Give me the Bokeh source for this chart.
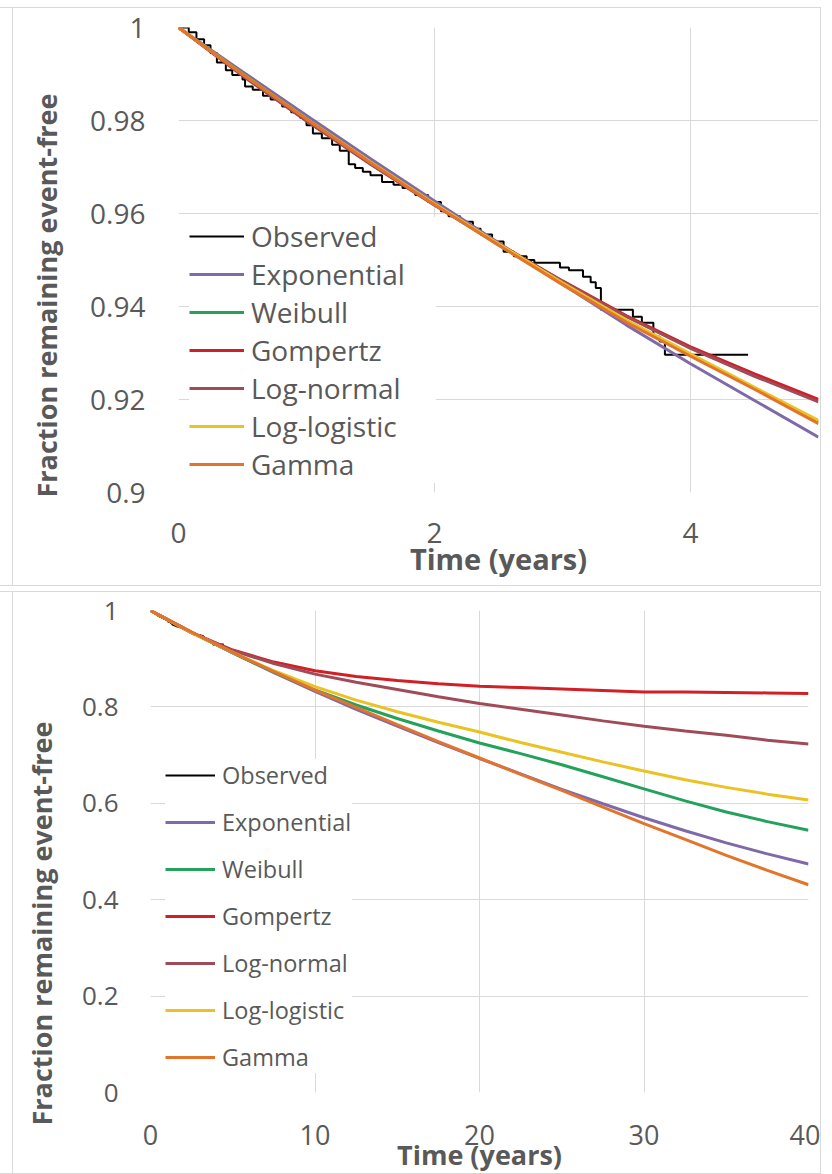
from bokeh.plotting import figure
from bokeh.layouts import column
from bokeh.models import FixedTicker, Legend, LegendItem, Title
from bokeh.embed import file_html
from bokeh.resources import INLINE

# ---------------- data ----------------
series_names = ["Observed", "Exponential", "Weibull", "Gompertz", "Log-normal", "Log-logistic", "Gamma"]
series_colors = ["#000000", "#7f6aa9", "#24a25c", "#d11f26", "#a04c58", "#eac223", "#e3742b"]

# Observed Kaplan-Meier steps (years, fraction event-free)
obs_t = [0, 0.08, 0.14, 0.2, 0.25, 0.3, 0.37, 0.42, 0.5, 0.52, 0.58, 0.66, 0.72, 0.81, 0.88,
         0.95, 1.0, 1.05, 1.12, 1.2, 1.26, 1.33, 1.38, 1.44, 1.5, 1.59, 1.68, 1.75, 1.85,
         1.95, 2.05, 2.11, 2.2, 2.3, 2.36, 2.45, 2.54, 2.62, 2.72, 2.78, 2.98, 3.05, 3.16,
         3.22, 3.26, 3.3, 3.55, 3.62, 3.71, 3.76, 3.8, 4.45]
obs_s = [1.0, 0.999, 0.9975, 0.9962, 0.9945, 0.9925, 0.9908, 0.9898, 0.9888, 0.9873, 0.9866,
         0.9853, 0.9845, 0.983, 0.9818, 0.9806, 0.979, 0.9772, 0.9762, 0.9748, 0.9735, 0.9706,
         0.9698, 0.969, 0.9682, 0.9668, 0.9662, 0.9655, 0.964, 0.9625, 0.9605, 0.9594, 0.9582,
         0.9567, 0.9555, 0.954, 0.9518, 0.9508, 0.95, 0.9494, 0.9484, 0.9478, 0.9464, 0.9452,
         0.944, 0.9393, 0.9378, 0.9365, 0.9335, 0.9325, 0.9296, 0.9296]

# Short-term fitted curves (0-5 years)
short_t = [0, 0.5, 1, 1.5, 2, 2.5, 3, 3.5, 4, 4.5, 5]
short_exponential = [1, 0.9905, 0.9811, 0.9718, 0.9627, 0.9537, 0.9448, 0.9360, 0.9277, 0.9198, 0.9119]
short_weibull = [1, 0.9901, 0.9804, 0.9710, 0.9620, 0.9533, 0.9449, 0.9368, 0.9296, 0.9224, 0.9152]
short_gompertz = [1, 0.9898, 0.9800, 0.9707, 0.9619, 0.9535, 0.9455, 0.9380, 0.9313, 0.9255, 0.9200]
short_lognormal = [1, 0.9896, 0.9799, 0.9706, 0.9618, 0.9534, 0.9454, 0.9378, 0.9310, 0.9250, 0.9195]
short_loglogistic = [1, 0.9900, 0.9804, 0.9711, 0.9621, 0.9535, 0.9451, 0.9371, 0.9298, 0.9226, 0.9155]
short_gamma = [1, 0.9900, 0.9803, 0.9709, 0.9619, 0.9532, 0.9447, 0.9366, 0.9293, 0.9222, 0.9148]

# Long-term extrapolations (0-40 years)
long_t = [0, 2.5, 5, 7.5, 10, 12.5, 15, 17.5, 20, 22.5, 25, 27.5, 30, 32.5, 35, 37.5, 40]
long_exponential = [1, 0.955, 0.912, 0.871, 0.832, 0.795, 0.760, 0.726, 0.693, 0.661, 0.629, 0.599, 0.570, 0.543, 0.518, 0.495, 0.474]
long_weibull = [1, 0.954, 0.912, 0.872, 0.835, 0.804, 0.776, 0.750, 0.725, 0.703, 0.680, 0.655, 0.630, 0.605, 0.582, 0.562, 0.544]
long_gompertz = [1, 0.954, 0.918, 0.893, 0.875, 0.863, 0.855, 0.848, 0.843, 0.840, 0.837, 0.834, 0.831, 0.831, 0.830, 0.829, 0.828]
long_lognormal = [1, 0.954, 0.917, 0.890, 0.868, 0.851, 0.836, 0.821, 0.807, 0.795, 0.783, 0.771, 0.760, 0.750, 0.741, 0.731, 0.723]
long_loglogistic = [1, 0.954, 0.913, 0.875, 0.842, 0.814, 0.790, 0.768, 0.748, 0.726, 0.706, 0.686, 0.667, 0.649, 0.633, 0.619, 0.607]
long_gamma = [1, 0.955, 0.913, 0.873, 0.835, 0.799, 0.763, 0.728, 0.694, 0.660, 0.627, 0.592, 0.558, 0.525, 0.492, 0.461, 0.431]

top_x_ticks = [0, 2, 4]
top_x_labels = ["0", "2", "4"]
top_y_ticks = [0.9, 0.92, 0.94, 0.96, 0.98, 1.0]
top_y_labels = ["0.9", "0.92", "0.94", "0.96", "0.98", "1"]
bot_x_ticks = [0, 10, 20, 30, 40]
bot_x_labels = ["0", "10", "20", "30", "40"]
bot_y_ticks = [0, 0.2, 0.4, 0.6, 0.8, 1.0]
bot_y_labels = ["0", "0.2", "0.4", "0.6", "0.8", "1"]

x_title = "Time (years)"
y_title = "Fraction remaining event-free"

FONT = "Open Sans"
TXT = "#595959"
GRID = "#d9d9d9"


def make_panel(x_range, y_range, xt, xl, yt, yl, frame_w, frame_h, borders, curves_t, curves,
               cfg):
    left, right, top, bottom = borders
    p = figure(frame_width=frame_w, frame_height=frame_h, x_range=x_range, y_range=y_range,
               output_backend="svg", toolbar_location=None,
               min_border_left=left, min_border_right=right,
               min_border_top=top, min_border_bottom=bottom)
    try:
        p.frame_align = False
    except Exception:
        pass
    p.outline_line_color = None
    p.background_fill_color = "white"
    p.border_fill_color = None

    p.xaxis.ticker = FixedTicker(ticks=xt)
    p.yaxis.ticker = FixedTicker(ticks=yt)
    p.xaxis.major_label_overrides = {t: l for t, l in zip(xt, xl)}
    p.yaxis.major_label_overrides = {t: l for t, l in zip(yt, yl)}
    for ax in (p.xaxis, p.yaxis):
        ax.axis_line_color = None
        ax.major_tick_line_color = None
        ax.minor_tick_line_color = None
        ax.major_tick_out = 0
        ax.major_tick_in = 0
        ax.major_label_text_font = FONT
        ax.major_label_text_color = TXT
    p.yaxis.major_label_text_font_size = cfg["ytick_size"]
    p.xaxis.major_label_text_font_size = cfg["xtick_size"]
    p.yaxis.major_label_standoff = cfg["ylabel_standoff"]
    p.xaxis.major_label_standoff = cfg["xlabel_standoff"]

    p.xaxis.axis_label = x_title
    p.xaxis.axis_label_text_font = FONT
    p.xaxis.axis_label_text_font_style = "bold"
    p.xaxis.axis_label_text_font_size = cfg["xtitle_size"]
    p.xaxis.axis_label_text_color = TXT
    p.xaxis.axis_label_standoff = cfg["xtitle_standoff"]

    ytitle = Title(text=y_title, align="left", offset=cfg["ytitle_offset"],
                   standoff=cfg["ytitle_standoff"], text_font=FONT,
                   text_font_style="bold", text_font_size=cfg["ytitle_size"], text_color=TXT)
    p.add_layout(ytitle, "left")

    p.xgrid.grid_line_color = GRID
    p.ygrid.grid_line_color = GRID
    p.xgrid.grid_line_width = 1
    p.ygrid.grid_line_width = 1

    items = []
    r = p.step(obs_t, obs_s, mode="after", line_color=series_colors[0], line_width=2)
    items.append(LegendItem(label=series_names[0], renderers=[r]))
    for name, col, ys in zip(series_names[1:], series_colors[1:], curves):
        r = p.line(curves_t, ys, line_color=col, line_width=3)
        items.append(LegendItem(label=name, renderers=[r]))

    lg = Legend(items=items, location=cfg["legend_loc"])
    lg.background_fill_color = "white"
    lg.background_fill_alpha = 1.0
    lg.border_line_color = None
    lg.glyph_width = cfg["glyph_width"]
    lg.glyph_height = cfg["item_h"]
    lg.label_height = cfg["item_h"]
    lg.label_width = cfg["label_w"]
    lg.spacing = cfg["spacing"]
    lg.padding = 10
    lg.margin = 0
    lg.label_standoff = 7
    lg.label_text_font = FONT
    lg.label_text_font_size = cfg["legend_size"]
    lg.label_text_color = TXT
    p.add_layout(lg)
    return p


p1 = make_panel((0, 5), (0.9, 1.0), top_x_ticks, top_x_labels, top_y_ticks, top_y_labels,
                639, 463, (178, 3, 19, 95), short_t,
                [short_exponential, short_weibull, short_gompertz, short_lognormal,
                 short_loglogistic, short_gamma],
                {"ylabel_standoff": 33, "xlabel_standoff": 30, "ytick_size": "28px",
                 "xtick_size": "28px", "xtitle_size": "29px", "ytitle_size": "27px",
                 "xtitle_standoff": -7, "ytitle_offset": -5, "ytitle_standoff": 46,
                 "legend_loc": (11, 9), "glyph_width": 55, "item_h": 30, "spacing": 0,
                 "label_w": 185, "legend_size": "28px"})

p2 = make_panel((0, 40), (0, 1.0), bot_x_ticks, bot_x_labels, bot_y_ticks, bot_y_labels,
                657, 480, (150, 13, 18, 77), long_t,
                [long_exponential, long_weibull, long_gompertz, long_lognormal,
                 long_loglogistic, long_gamma],
                {"ylabel_standoff": 32, "xlabel_standoff": 32, "ytick_size": "26px",
                 "xtick_size": "27px", "xtitle_size": "27px", "ytitle_size": "27px",
                 "xtitle_standoff": -12, "ytitle_offset": -33, "ytitle_standoff": 37,
                 "legend_loc": (15, 19), "glyph_width": 50, "item_h": 32, "spacing": 15,
                 "label_w": 130, "legend_size": "23.5px"})

box_style = {
    "border-top": "1px solid #d9d9d9",
    "border-right": "1px solid #d9d9d9",
    "border-bottom": "1px solid #d9d9d9",
    "background": "linear-gradient(to right, transparent 12px, #d9d9d9 12px, #d9d9d9 13px, transparent 13px)",
}
p1.margin = (7, 0, 0, 0)
p2.margin = (5, 0, 0, 0)
p1.styles = dict(box_style)
p2.styles = dict(box_style)

layout = column(p1, p2, spacing=0)
open("out.html", "w").write(file_html(layout, INLINE))
